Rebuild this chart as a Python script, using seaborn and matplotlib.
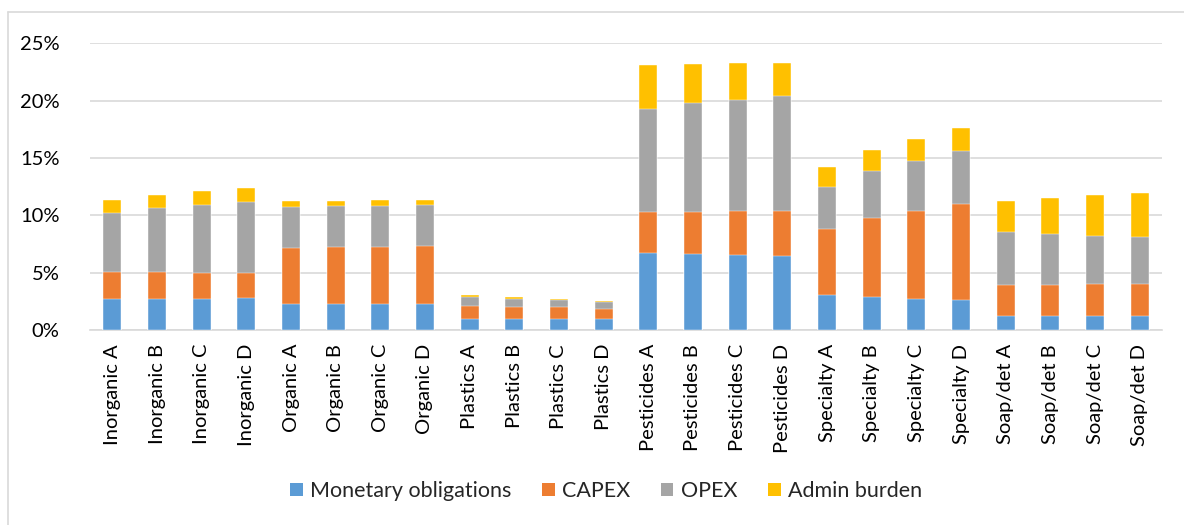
import matplotlib
matplotlib.use("Agg")
import matplotlib.pyplot as plt
from matplotlib.patches import Patch
from matplotlib.lines import Line2D
from matplotlib.ticker import PercentFormatter
import numpy as np
import pandas as pd
import seaborn as sns

categories = [
    "Inorganic A", "Inorganic B", "Inorganic C", "Inorganic D",
    "Organic A", "Organic B", "Organic C", "Organic D",
    "Plastics A", "Plastics B", "Plastics C", "Plastics D",
    "Pesticides A", "Pesticides B", "Pesticides C", "Pesticides D",
    "Specialty A", "Specialty B", "Specialty C", "Specialty D",
    "Soap/det A", "Soap/det B", "Soap/det C", "Soap/det D",
]

# Cost components, as a share of turnover (%)
monetary = [2.67, 2.73, 2.73, 2.79, 2.24, 2.27, 2.27, 2.27,
            0.93, 0.93, 0.93, 0.93, 6.72, 6.63, 6.51, 6.42,
            3.02, 2.88, 2.73, 2.65, 1.25, 1.19, 1.19, 1.19]
capex = [2.39, 2.33, 2.27, 2.15, 4.88, 4.94, 5.00, 5.06,
         1.19, 1.07, 1.05, 0.93, 3.57, 3.66, 3.84, 3.96,
         5.79, 6.89, 7.62, 8.34, 2.65, 2.73, 2.82, 2.82]
opex = [5.11, 5.58, 5.90, 6.25, 3.58, 3.60, 3.57, 3.57,
        0.73, 0.73, 0.61, 0.58, 8.98, 9.51, 9.74, 10.00,
        3.66, 4.07, 4.39, 4.65, 4.65, 4.42, 4.22, 4.10]
admin = [1.17, 1.16, 1.19, 1.19, 0.52, 0.41, 0.47, 0.41,
         0.17, 0.12, 0.08, 0.06, 3.87, 3.40, 3.17, 2.90,
         1.72, 1.86, 1.95, 2.01, 2.70, 3.20, 3.54, 3.84]

series_names = ["Monetary obligations", "CAPEX", "OPEX", "Admin burden"]
colors = ["#5B9BD5", "#ED7D31", "#A5A5A5", "#FFC000"]

df = pd.DataFrame({
    "category": categories,
    series_names[0]: monetary,
    series_names[1]: capex,
    series_names[2]: opex,
    series_names[3]: admin,
})
cum = df[series_names].cumsum(axis=1)

sns.set_theme(style="white")
plt.rcParams["font.family"] = ["Lato", "DejaVu Sans"]

W, H = 1184, 525
fig = plt.figure(figsize=(W / 100, H / 100), dpi=100)
ax = fig.add_axes([90 / W, (H - 330) / H, (1162 - 90) / W, (330 - 43.3) / H])

# Stacked bars: draw cumulative totals from the top series down
for name, color in reversed(list(zip(series_names, colors))):
    sns.barplot(x=df["category"], y=cum[name] / 100, color=color,
                width=0.4, saturation=1, ax=ax, edgecolor="white",
                linewidth=0.3, zorder=3)

ax.set_ylim(0, 0.25)
ax.set_xlim(-0.5, len(categories) - 0.5)
ax.set_yticks(np.arange(0, 0.2501, 0.05))
ax.yaxis.set_major_formatter(PercentFormatter(1.0, decimals=0))
ax.grid(axis="y", color="#D9D9D9", linewidth=1.2, zorder=0)
ax.set_axisbelow(True)
for side in ["left", "right", "top"]:
    ax.spines[side].set_visible(False)
ax.spines["bottom"].set_color("#D9D9D9")
ax.spines["bottom"].set_linewidth(1.2)
ax.set_xlabel("")
ax.set_ylabel("")
ax.tick_params(axis="both", length=0, labelsize=14.5, colors="black")
ax.tick_params(axis="y", pad=22)
ax.tick_params(axis="x", pad=10)
plt.setp(ax.get_xticklabels(), rotation=90, ha="center", va="top")

handles = [Patch(facecolor=c, edgecolor="none") for c in colors]
fig.legend(handles, series_names, loc="center", bbox_to_anchor=(606 / W, 1 - 491 / H),
           ncol=4, frameon=False, fontsize=15.5, handlelength=0.6, handleheight=0.6,
           handletextpad=0.35, columnspacing=1.4)

# Chart frame
fig.add_artist(Line2D([8 / W, 8 / W], [0, 1 - 12 / H], transform=fig.transFigure,
                      color="#D9D9D9", linewidth=1.2))
fig.add_artist(Line2D([8 / W, 1], [1 - 12 / H, 1 - 12 / H], transform=fig.transFigure,
                      color="#D9D9D9", linewidth=1.2))

fig.savefig("out.png", dpi=100)
